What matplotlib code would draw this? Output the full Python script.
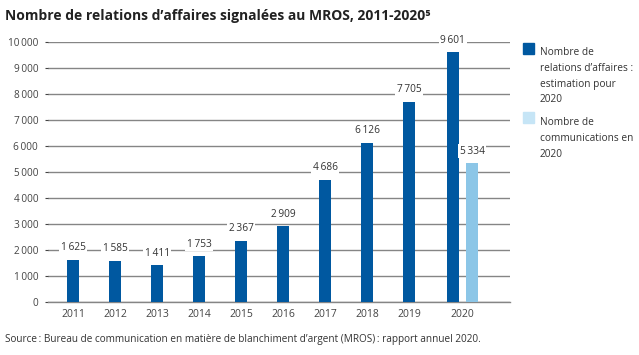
import matplotlib.pyplot as plt
from matplotlib.patches import Rectangle

plt.rcParams['font.family'] = ['Open Sans', 'DejaVu Sans']

annees = ['2011', '2012', '2013', '2014', '2015', '2016', '2017', '2018', '2019', '2020']
relations = [1625, 1585, 1411, 1753, 2367, 2909, 4686, 6126, 7705, 9601]
communications_2020 = 5334
yticks = [0, 1000, 2000, 3000, 4000, 5000, 6000, 7000, 8000, 9000, 10000]

bleu = '#0058a0'
bleu_clair = '#8cc6e7'
gris = '#8c8c8c'


def fmt(v):
    s = f'{v:,}'.replace(',', '\u2009')
    return s


fig = plt.figure(figsize=(6.39, 3.55), dpi=100)
ax = fig.add_axes([0.075, 0.149, 0.723, 0.733])

# positions des barres (2020 décalée pour la paire)
xs = list(range(9)) + [9.04]
w = 0.28
ax.bar(xs, relations, width=w, color=bleu, zorder=3)
ax.bar([9.5], [communications_2020], width=w, color=bleu_clair, zorder=3)

for x, v in zip(xs, relations):
    ax.text(x, v + 470, fmt(v), ha='center', va='center', fontsize=7.3, color='#333333',
            bbox=dict(facecolor='white', edgecolor='none', pad=1), zorder=4)
ax.text(9.5, communications_2020 + 470, fmt(communications_2020), ha='center', va='center',
        fontsize=7.3, color='#333333',
        bbox=dict(facecolor='white', edgecolor='none', pad=1), zorder=4)

ax.set_ylim(0, 10000)
ax.set_xlim(-0.6, 10.4)
ax.set_yticks(yticks)
ax.set_yticklabels([fmt(t) for t in yticks], fontsize=7.2, color='#444444')
ax.set_xticks(list(range(9)) + [9.27])
ax.set_xticklabels(annees, fontsize=7.5, color='#444444')
ax.tick_params(axis='x', length=0, pad=5)
ax.tick_params(axis='y', length=2, width=0.8, color='#444444', pad=5)
ax.grid(axis='y', color='#858585', linewidth=1.0, zorder=0)
for s in ['left', 'right', 'top']:
    ax.spines[s].set_visible(False)
ax.spines['bottom'].set_color('#858585')
ax.spines['bottom'].set_linewidth(1.0)

fig.text(0.008, 0.955, 'Nombre de relations d\u2019affaires signalées au MROS, 2011-2020\u2075',
         fontsize=10, fontweight='bold', color='#222222', va='center')

# légende
fig.patches.append(Rectangle((523 / 639, 1 - 54 / 355), 11 / 639, 11 / 355,
                             transform=fig.transFigure, color=bleu, figure=fig))
fig.patches.append(Rectangle((523 / 639, 1 - 123 / 355), 11 / 639, 11 / 355,
                             transform=fig.transFigure, color='#c6e5f6', figure=fig))
fig.text(540 / 639, 1 - 47 / 355, 'Nombre de\nrelations d\u2019affaires :\nestimation pour\n2020',
         fontsize=7.3, color='#333333', va='top', linespacing=1.6)
fig.text(540 / 639, 1 - 117 / 355, 'Nombre de\ncommunications en\n2020',
         fontsize=7.3, color='#333333', va='top', linespacing=1.6)

fig.text(0.008, 0.045, 'Source\u2009: Bureau de communication en matière de blanchiment d\u2019argent (MROS)\u2009: rapport annuel 2020.',
         fontsize=7.2, color='#333333', va='center')

fig.savefig('out.png', dpi=100)
plt.close(fig)
